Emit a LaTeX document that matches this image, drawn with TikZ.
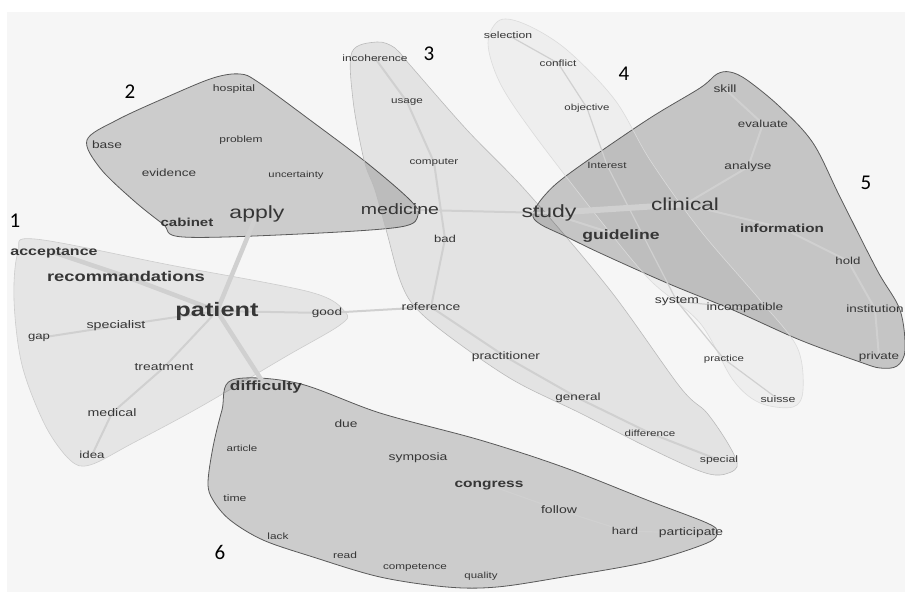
\documentclass[tikz,border=0pt]{standalone}
\usepackage{fontspec}
\newfontfamily\wf[FakeStretch=1.3]{Liberation Sans}
\newfontfamily\numf{Carlito}
\pgfdeclarelayer{bg}
\pgfdeclarelayer{edges}
\pgfsetlayers{bg,edges,main}
\definecolor{bgc}{HTML}{F6F6F6}
\definecolor{tx}{HTML}{363636}
\definecolor{edgec}{HTML}{D0D0D0}
\definecolor{darkline}{HTML}{5A5A5A}
\tikzset{
  w/.style={font=\wf\fontsize{#1}{#1}\selectfont, text=tx, anchor=base, inner sep=0pt, yshift={-0.26*#1pt}},
  wb/.style={w=#1, font=\wf\bfseries\fontsize{#1}{#1}\selectfont},
  num/.style={font=\numf\fontsize{21}{21}\selectfont, text=black, inner sep=0pt},
  ed/.style={draw=edgec, line width=2pt, line cap=round},
  edk/.style={draw=edgec, line width=4.5pt, line cap=round},
  hullA/.style={fill=black, fill opacity=0.065, draw=black!20, line width=0.6pt},
  hullB/.style={fill=black, fill opacity=0.17, draw=darkline, line width=0.8pt},
  hullC/.style={fill=black, fill opacity=0.075, draw=black!27, line width=0.6pt},
  hullD/.style={fill=black, fill opacity=0.03, draw=black!14, line width=0.6pt},
  hullE/.style={fill=black, fill opacity=0.195, draw=darkline, line width=0.8pt},
}
\begin{document}
\begin{tikzpicture}[x=1pt,y=-1pt]
\begin{pgfonlayer}{bg}
\fill[white] (0,0) rectangle (905,592);
\fill[bgc] (7,12) rectangle (905,592);
\useasboundingbox (0,0) rectangle (905,592);
% hull 1
\draw[hullA] plot[smooth cycle, tension=0.55] coordinates {(14,300) (18,252) (35,239) (170,265) (310,292) (345,312) (340,325) (285,357) (200,407) (133,443) (90,465) (70,460) (45,425) (22,365)};
% hull 2
\draw[hullB] plot[smooth cycle, tension=0.55] coordinates {(87,140) (117,120) (167,97) (213,78) (240,74) (258,82) (310,120) (367,163) (410,200) (418,215) (400,227) (300,234) (183,237) (163,224) (133,200) (100,168)};
% hull 3
\draw[hullC] plot[smooth cycle, tension=0.55] coordinates {(352,52) (377,42) (395,48) (410,65) (467,130) (527,192) (610,290) (680,387) (707,413) (730,447) (737,467) (720,475) (697,470) (647,447) (580,413) (513,380) (450,337) (415,307) (400,280) (387,233) (375,190) (364,160) (353,100)};
% hull 5
\draw[hullE] plot[smooth cycle, tension=0.55] coordinates {(533,214) (545,195) (570,173) (647,120) (700,88) (717,74) (730,72) (747,80) (780,107) (813,143) (840,197) (877,270) (900,310) (905,350) (897,366) (880,368) (860,362) (800,340) (733,310) (667,283) (600,253) (567,237) (540,224)};
% hull 6
\draw[hullB] plot[smooth cycle, tension=0.55] coordinates {(232,380) (297,383) (380,413) (480,440) (563,467) (647,500) (707,523) (717,532) (707,543) (647,562) (563,577) (497,587) (447,587) (380,577) (313,557) (263,540) (230,520) (213,500) (208,483) (213,447) (222,410)};
% hull 4
\draw[hullD] plot[smooth cycle, tension=0.55] coordinates {(500,20) (527,25) (567,50) (615,100) (650,160) (700,230) (760,300) (797,347) (803,390) (793,407) (760,403) (733,380) (700,323) (650,280) (600,220) (533,133) (500,83) (488,43)};
\end{pgfonlayer}

% cluster 1
\node[wb=19.5] (patient) at (217,311) {patient};
\node[wb=12.3] (acceptance) at (54,252) {acceptance};
\node[wb=14.1] (recomm) at (126,278) {recommandations};
\node[w=11.0] (specialist) at (116,326) {specialist};
\node[w=10.1] (gap) at (39,337) {gap};
\node[w=10.7] (treatment) at (164,368) {treatment};
\node[w=10.9] (medical) at (112,414) {medical};
\node[w=10.2] (idea) at (92,456) {idea};
\node[w=10.4] (good) at (327,313) {good};
% cluster 2
\node[w=9.4] (hospital) at (234,89) {hospital};
\node[w=10.6] (base) at (107,146) {base};
\node[w=9.2] (problem) at (241,140) {problem};
\node[w=10.4] (evidence) at (169,174) {evidence};
\node[w=8.65] (uncertainty) at (296,175) {uncertainty};
\node[wb=11.6] (cabinet) at (187,223) {cabinet};
\node[w=17.7] (apply) at (257,214) {apply};
% cluster 3
\node[w=9.2] (incoherence) at (375,59) {incoherence};
\node[w=9.0] (usage) at (407,101) {usage};
\node[w=9.0] (computer) at (434,162) {computer};
\node[w=15] (medicine) at (400,211) {medicine};
\node[w=10.1] (bad) at (445,240) {bad};
\node[w=10.7] (reference) at (431,308) {reference};
\node[w=10.6] (practitioner) at (506,357) {practitioner};
\node[w=10.4] (general) at (578,398) {general};
\node[w=8.9] (difference) at (650,434) {difference};
\node[w=9.4] (special) at (719,460) {special};
% cluster 4
\node[w=9.4] (selection) at (508,36) {selection};
\node[w=9.1] (conflict) at (558,64) {conflict};
\node[w=8.8] (objective) at (587,108) {objective};
\node[w=9.0] (interest) at (607,166) {Interest};
\node[w=10.7] (system) at (677,301) {system};
\node[w=10.5] (incompatible) at (745,308) {incompatible};
\node[w=8.8] (practice) at (724,359) {practice};
\node[w=9.5] (suisse) at (778,400) {suisse};
% cluster 5
\node[w=17.7] (study) at (549,213) {study};
\node[w=17.4] (clinical) at (685,206) {clinical};
\node[wb=13.5] (guideline) at (621,236) {guideline};
\node[wb=11.7] (information) at (782,229) {information};
\node[w=10.2] (hold) at (848,262) {hold};
\node[w=10.4] (institution) at (875,310) {institution};
\node[w=10.3] (private) at (879,357) {private};
\node[w=10.6] (skill) at (725,90) {skill};
\node[w=10.2] (evaluate) at (763,125) {evaluate};
\node[w=10.5] (analyse) at (748,167) {analyse};
% cluster 6
\node[wb=13.3] (difficulty) at (266,387) {difficulty};
\node[w=10.6] (due) at (346,425) {due};
\node[w=8.9] (article) at (242,449) {article};
\node[w=10.7] (symposia) at (418,458) {symposia};
\node[wb=11.9] (congress) at (489,484) {congress};
\node[w=9.4] (time) at (235,499) {time};
\node[w=10.8] (follow) at (559,511) {follow};
\node[w=10] (hard) at (625,532) {hard};
\node[w=10.7] (participate) at (691,533) {participate};
\node[w=9.1] (lack) at (278,537) {lack};
\node[w=9.2] (read) at (345,556) {read};
\node[w=9.0] (competence) at (415,567) {competence};
\node[w=8.8] (quality) at (481,576) {quality};
% numbers
\node[num] (n1) at (15,221) {1};
\node[num] (n2) at (130,92) {2};
\node[num] (n3) at (429,54) {3};
\node[num] (n4) at (624,74) {4};
\node[num] (n5) at (866,183) {5};
\node[num] (n6) at (220,552) {6};

\begin{pgfonlayer}{edges}
\draw[edk] (acceptance.center) -- (recomm.center) -- (patient.center);
\draw[edk] (patient.center) -- (apply.center);
\draw[edk] (patient.center) -- (difficulty.center);
\draw[ed] (gap.center) -- (specialist.center) -- (patient.center);
\draw[ed] (patient.center) -- (treatment.center) -- (medical.center) -- (idea.center);
\draw[ed] (patient.center) -- (good.center) -- (reference.center);
\draw[ed] (incoherence.center) -- (usage.center) -- (computer.center) -- (bad.center) -- (reference.center);
\draw[ed] (reference.center) -- (practitioner.center) -- (general.center) -- (difference.center) -- (special.center);
\draw[ed] (medicine.center) -- (study.center);
\draw[draw=edgec, line width=6pt, line cap=round] (study.center) -- (clinical.center);
\draw[ed] (study.center) -- (guideline.center);
\draw[ed] (clinical.center) -- (analyse.center) -- (evaluate.center) -- (skill.center);
\draw[ed] (clinical.center) -- (information.center) -- (hold.center) -- (institution.center) -- (private.center);
\draw[ed, line width=1.2pt] (selection.center) -- (conflict.center) -- (objective.center) -- (interest.center) -- (system.center) -- (practice.center) -- (suisse.center);
\draw[ed, line width=1.2pt] (system.center) -- (incompatible.center);
\draw[ed, line width=1.2pt] (congress.center) -- (follow.center) -- (hard.center) -- (participate.center);
\end{pgfonlayer}
\end{tikzpicture}
\end{document}
